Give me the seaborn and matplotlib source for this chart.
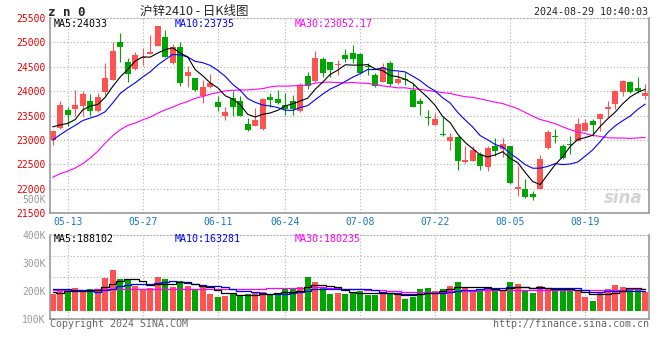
import matplotlib
matplotlib.use("Agg")
import matplotlib.pyplot as plt
import matplotlib.ticker as mticker
import numpy as np
import pandas as pd
import seaborn as sns

# daily bars from 05-09 to 08-29 (80 trading days)
opens = [23007, 23245, 23619, 23640, 23700, 23803, 23585, 23993, 24231, 25000,
         24592, 24449, 24673, 24762, 24932, 25116, 24571, 24898, 24320, 24265,
         23912, 24082, 23789, 23483, 23857, 23803, 23333, 23292, 23231, 23877,
         23843, 23721, 23810, 23585, 24313, 24218, 24660, 24592, 24537, 24741,
         24776, 24762, 24517, 24333, 24197, 24571, 24163, 24245, 24027, 23810,
         23469, 23313, 23122, 22986, 23054, 22544, 22578, 22721, 22442, 22871,
         22816, 22871, 22007, 22000, 21905, 22007, 22837, 23088, 22884, 22925,
         22986, 23190, 23394, 23428, 23640, 23735, 23993, 24184, 24075, 23912]
highs = [23210, 23810, 23673, 24027, 24007, 23940, 23973, 24571, 25000, 25197,
         24673, 24796, 24878, 25150, 25340, 25250, 24966, 25000, 24517, 24270,
         24231, 24347, 23905, 23667, 24013, 23905, 23449, 23653, 23857, 23959,
         24027, 23973, 23925, 24163, 24401, 24823, 24707, 24605, 24639, 24864,
         24946, 24776, 24571, 24367, 24571, 24619, 24422, 24401, 24163, 23871,
         23619, 23551, 23469, 23143, 23088, 22884, 22884, 22750, 22871, 23041,
         23041, 22884, 22476, 22211, 21952, 22687, 23197, 23231, 22918, 23088,
         23449, 23428, 23435, 23545, 23803, 24027, 24231, 24211, 24286, 24150]
lows = [22900, 23224, 23280, 23483, 23497, 23500, 23565, 23925, 24220, 24605,
        24197, 24435, 24537, 24755, 24920, 24700, 24558, 24116, 24095, 24013,
        23755, 24061, 23605, 23401, 23497, 23490, 23177, 23285, 23211, 23687,
        23741, 23517, 23517, 23570, 24041, 24184, 24286, 24299, 24333, 24605,
        24571, 24354, 24333, 24095, 24184, 24116, 24150, 24129, 23680, 23517,
        23313, 23306, 23090, 22789, 22381, 22540, 22565, 22395, 22360, 22680,
        22646, 22109, 21850, 21816, 21769, 22000, 22816, 22939, 22619, 22721,
        22973, 23177, 23088, 23177, 23469, 23640, 23905, 23959, 23959, 23837]
closes = [23190, 23721, 23517, 23721, 23939, 23585, 23877, 24265, 24823, 24912,
          24347, 24741, 24694, 24796, 25330, 24707, 24912, 24177, 24388, 24027,
          24082, 24177, 23687, 23565, 23687, 23497, 23197, 23415, 23843, 23823,
          23769, 23640, 23640, 24129, 24109, 24687, 24367, 24435, 24558, 24660,
          24653, 24367, 24490, 24109, 24490, 24150, 24252, 24231, 23687, 23741,
          23449, 23435, 23095, 23054, 22565, 22599, 22803, 22476, 22837, 22769,
          22925, 22122, 22034, 21830, 21837, 22619, 23156, 23054, 22633, 22891,
          23326, 23347, 23299, 23537, 23673, 24007, 24211, 23993, 24007, 23973]
volumes = [188, 202, 202, 210, 196, 205, 202, 245, 274, 242,
           238, 218, 202, 210, 249, 242, 214, 235, 218, 206,
           214, 188, 178, 181, 191, 181, 188, 191, 195, 188,
           191, 205, 205, 213, 249, 231, 209, 188, 192, 188,
           196, 200, 185, 185, 191, 191, 188, 170, 179, 206,
           210, 199, 206, 217, 231, 213, 202, 199, 213, 202,
           202, 231, 224, 202, 192, 217, 210, 202, 202, 202,
           199, 178, 163, 196, 206, 220, 213, 206, 202, 196]
volumes = [v * 1000 for v in volumes]

# moving-average values before enough history is on screen
ma5_head = [23270, 23310, 23340, 23420]
ma10_head = [23000, 23110, 23210, 23300, 23400, 23450, 23500, 23580, 23760]
ma30_head = [22238, 22313, 22361, 22428, 22517, 22633, 22769, 22939, 23088, 23211,
             23299, 23347, 23415, 23469, 23551, 23619, 23673, 23741, 23789, 23857,
             23891, 23939, 23973, 24007, 24020, 24027, 24027, 24041, 24054]
vol_ma5_head = [196000, 191000, 199000, 199000]
vol_ma10_head = [207000, 205000, 205000, 202000, 202000, 200000, 196000, 203000, 206000]
vol_ma30_head = [202000, 202000, 202000, 202000, 202000, 202000, 207000, 207000,
                 207000, 207000, 207000, 207000, 207000, 207000, 207000, 207000,
                 207000, 207000, 207000, 207000, 207000, 207000, 207000, 207000,
                 207000, 207000, 207000, 207000, 207000]

tick_pos = [2, 12, 22, 31, 41, 51, 61, 71]
tick_labels = ["05-13", "05-27", "06-11", "06-24", "07-08", "07-22", "08-05", "08-19"]
price_ticks = [21500, 22000, 22500, 23000, 23500, 24000, 24500, 25000, 25500]
vol_ticks = [100000, 200000, 300000, 400000]
vol_tick_labels = ["100K", "200K", "300K", "400K"]

UP = "#ff5252"
DOWN = "#00a600"
GRID = "#b0b0b0"
MONO = "DejaVu Sans Mono"
VOL_FLOOR = 127500


def moving_average(values, window, head):
    ma = pd.Series(values, dtype=float).rolling(window).mean()
    ma.iloc[: len(head)] = head
    return ma


sns.set_style("white")
plt.rcParams["font.family"] = [MONO, "Noto Sans CJK SC"]

x = np.arange(len(closes))
o = np.array(opens, dtype=float)
c = np.array(closes, dtype=float)
colors = np.where(c >= o, UP, DOWN)

fig = plt.figure(figsize=(6.6, 3.6), dpi=100)
ax = fig.add_axes([50 / 660, 1 - 213.3 / 360, 599 / 660, 195.3 / 360])
axv = fig.add_axes([50 / 660, 1 - 318.7 / 360, 599 / 660, 84 / 360])

# candles
ax.vlines(x, lows, highs, colors=colors, linewidth=0.8, zorder=2)
ax.bar(x, np.maximum(np.abs(c - o), 18), bottom=np.minimum(o, c), width=0.8,
       color=colors, linewidth=0, zorder=2)

ma_df = pd.DataFrame({
    "x": x,
    "ma5": moving_average(closes, 5, ma5_head),
    "ma10": moving_average(closes, 10, ma10_head),
    "ma30": moving_average(closes, 30, ma30_head),
})
for col, color in [("ma30", "#ff00ff"), ("ma10", "#0000ff"), ("ma5", "black")]:
    sns.lineplot(data=ma_df, x="x", y=col, ax=ax, color=color, linewidth=0.8, zorder=3)

ax.set_xlim(-0.36, 79.5)
ax.set_ylim(21500, 25500)
ax.set_yticks(price_ticks)
ax.set_xticks(tick_pos, tick_labels)
ax.tick_params(axis="y", length=0, pad=3, labelsize=7, labelcolor="#ee0000")
ax.tick_params(axis="x", length=0, pad=3, labelsize=7, labelcolor="#1478c8")
ax.grid(True, color=GRID, linestyle=(0, (1, 2)), linewidth=0.8)
ax.set_xlabel("")
ax.set_ylabel("")

# volume
axv.bar(x, np.array(volumes) - VOL_FLOOR, bottom=VOL_FLOOR, width=0.8,
        color=colors, linewidth=0, zorder=2)
vol_df = pd.DataFrame({
    "x": x,
    "ma5": moving_average(volumes, 5, vol_ma5_head),
    "ma10": moving_average(volumes, 10, vol_ma10_head),
    "ma30": moving_average(volumes, 30, vol_ma30_head),
})
for col, color in [("ma30", "#ff00ff"), ("ma10", "#0000ff"), ("ma5", "black")]:
    sns.lineplot(data=vol_df, x="x", y=col, ax=axv, color=color, linewidth=0.9,
                 drawstyle="steps-mid", zorder=3)

axv.set_xlim(-0.36, 79.5)
axv.set_ylim(100000, 400000)
axv.set_yticks(vol_ticks, vol_tick_labels)
axv.yaxis.set_minor_locator(mticker.FixedLocator([175000, 250000, 325000]))
axv.set_xticks(tick_pos, [])
axv.tick_params(axis="both", which="both", length=0)
axv.tick_params(axis="y", pad=3, labelsize=7, labelcolor="#999999")
axv.grid(True, which="minor", axis="y", color=GRID, linestyle=(0, (1, 2)), linewidth=0.8)
axv.grid(True, which="major", axis="x", color=GRID, linestyle=(0, (1, 2)), linewidth=0.8)
axv.set_xlabel("")
axv.set_ylabel("")

for a in (ax, axv):
    for side in ("left", "bottom", "right"):
        a.spines[side].set_color("#999999")
        a.spines[side].set_linewidth(1.2)
    a.spines["top"].set_color(GRID)
    a.spines["top"].set_linestyle((0, (1, 2)))
    a.spines["top"].set_linewidth(0.8)

# header texts
fig.text(48 / 660, 1 - 12 / 360, "z n 0", fontsize=9, fontweight="bold", va="center")
fig.text(140 / 660, 1 - 11 / 360, "沪锌2410 - 日K线图", fontsize=9, va="center",
         family=["Noto Sans CJK SC", "DejaVu Sans"])
fig.text(648 / 660, 1 - 12 / 360, "2024-08-29 10:40:03", fontsize=7.2, ha="right", va="center")
fig.text(54 / 660, 1 - 24 / 360, "MA5:24033", fontsize=7.2, va="center", color="black")
fig.text(175 / 660, 1 - 24 / 360, "MA10:23735", fontsize=7.2, va="center", color="#0000ff")
fig.text(295 / 660, 1 - 24 / 360, "MA30:23052.17", fontsize=7.2, va="center", color="#ff00ff")
fig.text(54 / 660, 1 - 238.5 / 360, "MA5:188102", fontsize=7.2, va="center", color="black")
fig.text(175 / 660, 1 - 238.5 / 360, "MA10:163281", fontsize=7.2, va="center", color="#0000ff")
fig.text(295 / 660, 1 - 238.5 / 360, "MA30:180235", fontsize=7.2, va="center", color="#ff00ff")
fig.text(46 / 660, 1 - 200 / 360, "500K", fontsize=7, ha="right", va="center", color="#999999")
fig.text(50 / 660, 1 - 324 / 360, "Copyright 2024 SINA.COM", fontsize=7.2, va="center", color="#666666")
fig.text(649 / 660, 1 - 324 / 360, "http://finance.sina.com.cn", fontsize=7.2, ha="right",
         va="center", color="#666666")
ax.text(0.99, 0.08, "sina", transform=ax.transAxes, ha="right", va="center", fontsize=12,
        fontweight="bold", style="italic", color="#d4d4d4", family="DejaVu Sans", zorder=1)

fig.savefig("out.png", dpi=100)
plt.close(fig)
